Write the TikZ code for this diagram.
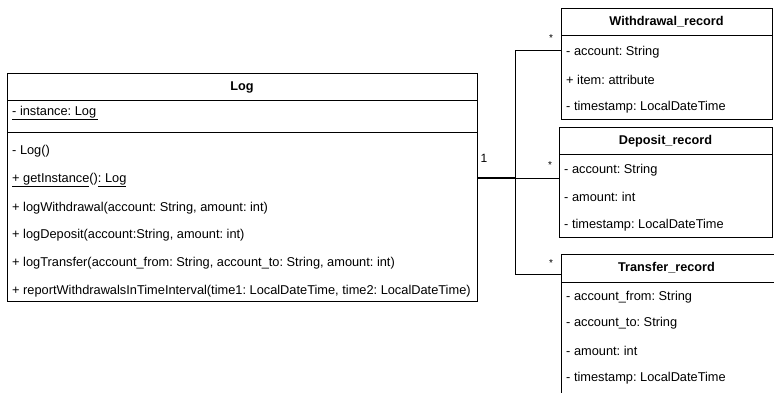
\documentclass[tikz,border=0pt]{standalone}
\usepackage{fontspec}
\setmainfont{Liberation Sans}
\frenchspacing
\begin{document}
\begin{tikzpicture}[x=1pt,y=-1pt,
  box/.style={draw=black, line width=1pt, anchor=north west, inner sep=0pt, fill=white},
  ttl/.style={font=\fontsize{12.7}{14}\selectfont\bfseries, inner sep=0pt},
  attr/.style={font=\fontsize{12.8}{14}\selectfont, anchor=west, inner sep=0pt},
  mult/.style={font=\fontsize{12}{14}\selectfont, inner sep=0pt},
  link/.style={draw=black, line width=1pt}]
\useasboundingbox (0,0) rectangle (774,392);
\clip (0,0) rectangle (774,392);

% ---- Log class ----
\node[box, minimum width=470pt, minimum height=228pt] (log) at (7,73) {};
\draw[line width=1pt] (7,100) -- (477,100);
\draw[line width=1pt] (7,132) -- (477,132);
\node[ttl] (logt) at (242,87) {Log};
\node[attr] (la1) at (12,113) {\underline{- instance: Log\,}};
\node[attr] (lm1) at (12,151) {- Log()};
\node[attr] (lm2) at (12,180) {\underline{+ getInstance}()\underline{: Log}};
\node[attr] (lm3) at (12,208) {+ logWithdrawal(account: String, amount: int)};
\node[attr] (lm4) at (12,235) {+ logDeposit(account:String, amount: int)};
\node[attr] (lm5) at (12,263) {+ logTransfer(account\_from: String, account\_to: String, amount: int)};
\node[attr] (lm6) at (12,291) {+ reportWithdrawalsInTimeInterval(time1: LocalDateTime, time2: LocalDateTime)};

% ---- Withdrawal_record ----
\node[box, minimum width=211pt, minimum height=111pt] (wr) at (561,8) {};
\draw[line width=1pt] (561,35) -- (772,35);
\node[ttl] (wrt) at (666.5,22) {Withdrawal\_record};
\node[attr] (wa1) at (566,52) {- account: String};
\node[attr] (wa2) at (566,80) {+ item: attribute};
\node[attr] (wa3) at (566,107) {- timestamp: LocalDateTime};

% ---- Deposit_record ----
\node[box, minimum width=213pt, minimum height=110pt] (dr) at (559,127) {};
\draw[line width=1pt] (559,154) -- (772,154);
\node[ttl] (drt) at (665.5,141) {Deposit\_record};
\node[attr] (da1) at (564,170) {- account: String};
\node[attr] (da2) at (564,197) {- amount: int};
\node[attr] (da3) at (564,225) {- timestamp: LocalDateTime};

% ---- Transfer_record (runs past the lower right edge) ----
\node[box, minimum width=220pt, minimum height=150pt] (tr) at (561,254) {};
\draw[line width=1pt] (561,282) -- (781,282);
\node[ttl] (trt) at (666.5,268) {Transfer\_record};
\node[attr] (ta1) at (566,297) {- account\_from: String};
\node[attr] (ta2) at (566,323) {- account\_to: String};
\node[attr] (ta3) at (566,351) {- amount: int};
\node[attr] (ta4) at (566,378) {- timestamp: LocalDateTime};

% ---- associations ----
\coordinate (src) at (477,178);
\coordinate (jn) at (515,178);
\coordinate (wend) at (561,50);
\coordinate (dend) at (559,178);
\coordinate (tend) at (561,274);
\draw[link] (src) -- (jn) -- (jn |- wend) -- (wend);
\draw[link] (jn) -- (dend);
\draw[link] (jn) -- (jn |- tend) -- (tend);
\draw[line width=2pt] (src) -- (jn);

\node[mult] (m1) at (484,158) {1};
\node[mult, font=\fontsize{10}{12}\selectfont] (mw) at (551,38) {*};
\node[mult, font=\fontsize{10}{12}\selectfont] (md) at (550,165) {*};
\node[mult, font=\fontsize{10}{12}\selectfont] (mt) at (551,263) {*};
\end{tikzpicture}
\end{document}
